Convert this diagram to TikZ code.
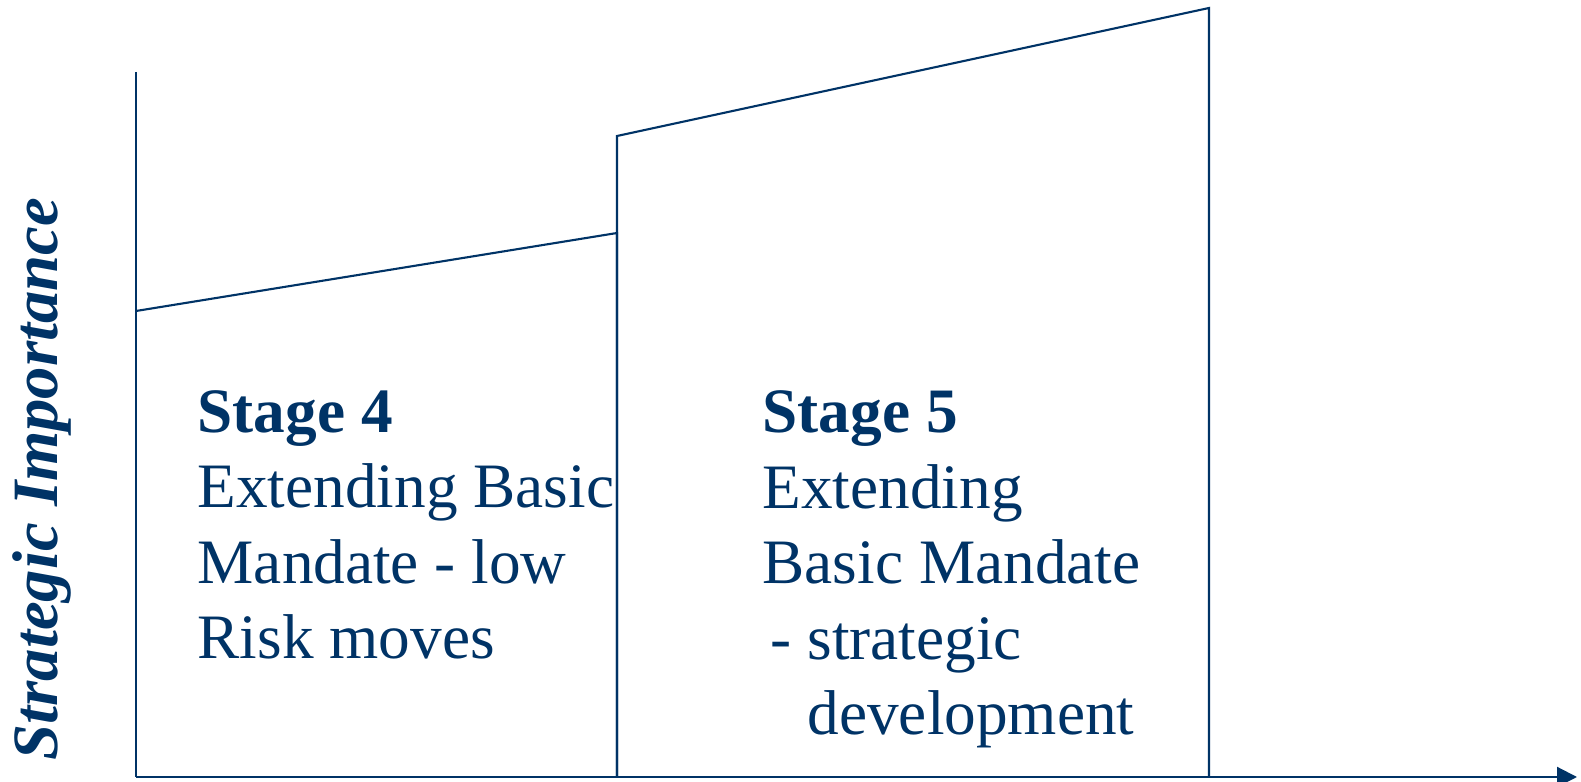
\documentclass[tikz,border=0pt]{standalone}
\usepackage{fontspec}
\setmainfont{Liberation Serif}
\usetikzlibrary{arrows.meta}
\definecolor{navy}{RGB}{0,51,102}

\begin{document}
\begin{tikzpicture}[
    axis/.style={line width=0.6pt,navy},
    stagebox/.style={line width=0.6pt,navy},
    stagetext/.style={font={\fontsize{18}{21.5}\selectfont},text=navy,align=left,inner sep=0pt,anchor=base west},
    axislabel/.style={font={\fontsize{18.4}{22}\selectfont\bfseries\itshape},text=navy,inner sep=0pt,rotate=90,anchor=base}]

    \useasboundingbox (0,0) rectangle (15.81,7.82);

    \coordinate (Origin) at (1.36,0.05);
    \coordinate (Ytop)   at (1.36,7.10);
    \coordinate (Xend)   at (15.77,0.05);

    % stage 4 and stage 5 blocks
    \coordinate (Sfour)  at (6.17,0.05);
    \coordinate (Sfourl) at (1.36,4.71);
    \coordinate (Sfourr) at (6.17,5.49);
    \coordinate (Sfivel) at (6.17,6.46);
    \coordinate (Sfiver) at (12.09,7.74);
    \coordinate (Sfive)  at (12.09,0.05);

    \draw[stagebox] (Sfourl) -- (Sfourr) -- (Sfour);
    \draw[stagebox] (Sfour) -- (Sfivel) -- (Sfiver) -- (Sfive);

    \draw[axis] (Ytop) -- (Origin);
    \draw[axis,-{Triangle[length=0.2cm,width=0.2cm]}] (Origin) -- (Xend);

    \node[axislabel] (Yname) at (0.58,3.03) {Strategic Importance};

    % base anchor sits on the last line
    \node[stagetext] (Four) at (1.97,1.23)
        {\textbf{Stage 4}\\Extending Basic\\Mandate - low\\Risk moves};
    \node[stagetext] (Five) at (7.62,0.47)
        {\textbf{Stage 5}\\Extending\\Basic Mandate\\\hspace*{0.08cm}- strategic\\\hspace*{0.08cm}\hphantom{- }development};

\end{tikzpicture}
\end{document}
